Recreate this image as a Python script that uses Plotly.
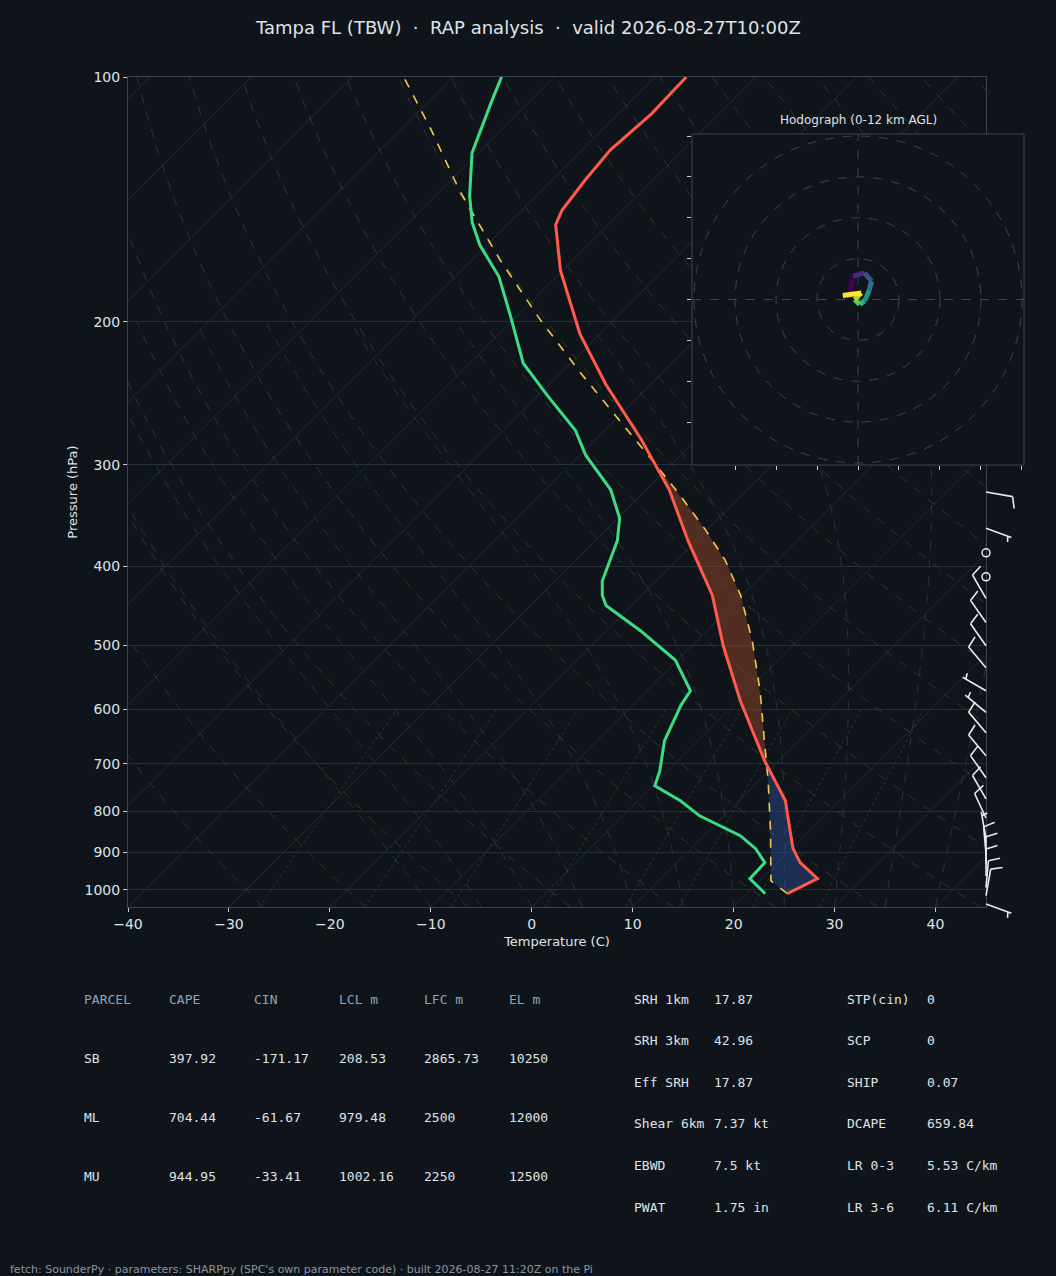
import numpy as np
import plotly.graph_objects as go
import plotly.colors as pc

# ---------------- data ----------------
T_P = [1011, 969, 926, 890, 841, 777, 694, 585, 501, 434, 372, 322, 279, 239, 207, 173, 152, 146, 134, 123, 111, 100]
T_C = [24.0, 25.5, 22.2, 20.1, 17.8, 14.6, 8.6, 0.2, -6.9, -13.0, -20.8, -27.7, -35.5, -44.4, -52.0, -60.2, -65.2, -66.0, -66.7, -67.2, -66.7, -66.9]
TD_P = [1011, 969, 926, 890, 858, 834, 811, 777, 745, 714, 656, 593, 569, 522, 480, 447, 434, 417, 372, 349, 322, 292, 272, 247, 225, 197, 176, 161, 151, 140, 124, 107, 100]
TD_C = [21.8, 18.8, 18.7, 16.4, 13.6, 10.6, 7.6, 4.2, 0.2, -0.8, -3.3, -5.2, -5.7, -10.2, -16.6, -22.5, -23.9, -25.3, -27.8, -29.8, -33.5, -39.4, -42.9, -49.0, -54.7, -60.6, -65.7, -70.7, -73.7, -76.6, -80.6, -83.8, -85.2]
PCL_P = [1011, 975, 846, 734, 656, 569, 493, 434, 393, 361, 327, 300, 265, 230, 199, 168, 138, 116, 100]
PCL_C = [24.0, 21.1, 16.1, 10.9, 6.6, 1.2, -4.6, -10.2, -15.2, -20.1, -26.1, -31.5, -39.4, -48.4, -57.3, -67.2, -78.1, -87.0, -94.9]

BARB_P = [324, 359, 385, 412, 438, 469, 501, 533, 569, 605, 641, 684, 728, 773, 816, 865, 903, 929, 962, 994, 1017, 1041]
BARB_DIR = [100, 110, 0, 0, 330, 325, 325, 320, 300, 310, 320, 320, 325, 330, 335, 350, 355, 0, 0, 5, 10, 110]
BARB_KT = [10, 5, 0, 0, 10, 10, 10, 10, 5, 5, 10, 10, 10, 10, 10, 5, 10, 10, 10, 10, 10, 5]

HODO_U = [-2.0, -1.2, 1.6, 3.3, 2.8, 1.6, 0.4, -0.8, 0.8, -3.7]
HODO_V = [1.6, 5.7, 6.5, 4.5, 2.4, -0.4, -1.2, 0.0, 1.6, 1.0]
HODO_RINGS = [10, 20, 30, 40]

P_TICKS = [100, 200, 300, 400, 500, 600, 700, 800, 900, 1000]
X_TICKS = [-40, -30, -20, -10, 0, 10, 20, 30, 40]

TABLE_HEAD = ["PARCEL", "CAPE", "CIN", "LCL m", "LFC m", "EL m"]
TABLE_ROWS = [["SB", "397.92", "-171.17", "208.53", "2865.73", "10250"],
              ["ML", "704.44", "-61.67", "979.48", "2500", "12000"],
              ["MU", "944.95", "-33.41", "1002.16", "2250", "12500"]]
KIN_L = ["SRH 1km", "SRH 3km", "Eff SRH", "Shear 6km", "EBWD", "PWAT"]
KIN_V = ["17.87", "42.96", "17.87", "7.37 kt", "7.5 kt", "1.75 in"]
IDX_L = ["STP(cin)", "SCP", "SHIP", "DCAPE", "LR 0-3", "LR 3-6"]
IDX_V = ["0", "0", "0.07", "659.84", "5.53 C/km", "6.11 C/km"]

# ---------------- geometry ----------------
W, H = 1056, 1276
BG = "#0f141a"
K = 80.5
PBOT, PTOP = 1050.0, 100.0
XL, XR = 128, 986
YT, YB = 77, 907
XMIN, XMAX = -40, 45

def skx(t, p):
    return np.asarray(t, float) + K * np.log10(PBOT / np.asarray(p, float))

def py(p):
    return YT + (YB - YT) * (np.log10(p) - np.log10(PTOP)) / (np.log10(PBOT) - np.log10(PTOP))

fig = go.Figure()
shapes = []
pg = np.logspace(np.log10(PBOT), np.log10(PTOP), 120)

def bg_line(x, p, color, dash, width=1):
    fig.add_trace(go.Scatter(x=x, y=p, mode="lines", line=dict(color=color, width=width, dash=dash),
                             hoverinfo="skip", showlegend=False))

for t0 in range(-120, 60, 10):
    bg_line(skx([t0, t0], [PBOT, PTOP]), [PBOT, PTOP], "#232c36", "solid")
for th in range(-30, 200, 10):
    t = (th + 273.15) * (pg / 1000.0) ** 0.2857 - 273.15
    bg_line(skx(t, pg), pg, "#353729", "dash")

def es(tc):
    return 6.112 * np.exp(17.67 * tc / (tc + 243.5))
def moist(t0):
    ps = np.logspace(np.log10(PBOT), np.log10(200), 200)
    ts = [t0]
    for i in range(1, len(ps)):
        tc = ts[-1]; tk = tc + 273.15; p = ps[i - 1]
        rs = 0.622 * es(tc) / (p - es(tc))
        g = (0.2857 * tk + 2.5e6 * rs / 1004.0) / (1 + 2.5e6 ** 2 * rs * 0.622 / (1004.0 * 287.0 * tk ** 2))
        ts.append(tc + g * np.log(ps[i] / p))
    return ps, np.array(ts)
for t0 in range(-10, 45, 5):
    ps, ts = moist(t0)
    bg_line(skx(ts, ps), ps, "#283538", "dash")
for w in [0.4, 1, 2, 4, 7, 10, 16, 24]:
    pm = np.logspace(np.log10(PBOT), np.log10(600), 30)
    e = w / 1000 * pm / (0.622 + w / 1000)
    lnr = np.log(e / 6.112)
    td = 243.5 * lnr / (17.67 - lnr)
    bg_line(skx(td, pm), pm, "#2a3832", "dot")

# CAPE / CIN fills
lp = np.linspace(np.log10(1011), np.log10(300), 200)
pp = 10 ** lp
tt = np.interp(lp, np.log10(T_P[::-1]), T_C[::-1])
tp = np.interp(lp, np.log10(PCL_P[::-1]), PCL_C[::-1])
for cond, col in [(tp > tt, "rgba(150,70,40,0.5)"), (tp < tt, "rgba(40,70,130,0.55)")]:
    idx = np.where(cond)[0]
    if len(idx) == 0:
        continue
    for g_ in np.split(idx, np.where(np.diff(idx) > 1)[0] + 1):
        xs = np.concatenate([skx(tt[g_], pp[g_]), skx(tp[g_], pp[g_])[::-1]])
        ys = np.concatenate([pp[g_], pp[g_][::-1]])
        fig.add_trace(go.Scatter(x=xs, y=ys, fill="toself", fillcolor=col, mode="lines",
                                 line=dict(width=0), hoverinfo="skip", showlegend=False))

fig.add_trace(go.Scatter(x=skx(PCL_C, PCL_P), y=PCL_P, mode="lines",
                         line=dict(color="#f2c94c", width=1.6, dash="dash"), showlegend=False))
fig.add_trace(go.Scatter(x=skx(TD_C, TD_P), y=TD_P, mode="lines",
                         line=dict(color="#3ddc84", width=3), showlegend=False))
fig.add_trace(go.Scatter(x=skx(T_C, T_P), y=T_P, mode="lines",
                         line=dict(color="#ff5a4a", width=3), showlegend=False))

# wind barbs as paper shapes
def P(x, y):
    return x / W, 1 - y / H
for p, d, s in zip(BARB_P, BARB_DIR, BARB_KT):
    x0, y0 = XR, py(p)
    if s == 0:
        shapes.append(dict(type="circle", xref="paper", yref="paper",
                           x0=(x0 - 4) / W, x1=(x0 + 4) / W, y0=1 - (y0 + 4) / H, y1=1 - (y0 - 4) / H,
                           line=dict(color="#e8ecf0", width=1.5)))
        continue
    a = np.deg2rad(d)
    dx, dy = np.sin(a), -np.cos(a)
    L = 27
    x1, y1 = x0 + dx * L, y0 + dy * L
    pos = 1.0 if s >= 10 else 0.86
    blen = 12 if s >= 10 else 6
    xs_, ys_ = x0 + dx * L * pos, y0 + dy * L * pos
    xb, yb = xs_ + (-dy * 0.95 + dx * 0.3) * blen, ys_ + (dx * 0.95 + dy * 0.3) * blen
    a0, a1 = P(x0, y0), P(x1, y1)
    bs, be = P(xs_, ys_), P(xb, yb)
    path = "M %f %f L %f %f M %f %f L %f %f" % (*a0, *a1, *bs, *be)
    shapes.append(dict(type="path", xref="paper", yref="paper", path=path,
                       line=dict(color="#e8ecf0", width=1.6)))

# hodograph
HX0, HX1, HY0, HY1 = 692, 1024, 134, 465
shapes.append(dict(type="rect", xref="paper", yref="paper", x0=HX0 / W, x1=HX1 / W, y0=1 - HY1 / H, y1=1 - HY0 / H,
                   fillcolor=BG, line=dict(color="#3a4450", width=1), layer="above"))
for r in HODO_RINGS:
    shapes.append(dict(type="circle", xref="x2", yref="y2", x0=-r, x1=r, y0=-r, y1=r,
                       line=dict(color="#3b4552", width=1, dash="dash"), layer="above"))
shapes.append(dict(type="line", xref="x2", yref="y2", x0=-40.5, x1=40.5, y0=0, y1=0,
                   line=dict(color="#3b4552", width=1, dash="dash"), layer="above"))
shapes.append(dict(type="line", xref="x2", yref="y2", x0=0, x1=0, y0=-40.5, y1=40.5,
                   line=dict(color="#3b4552", width=1, dash="dash"), layer="above"))
n = len(HODO_U)
cols = pc.sample_colorscale("Viridis", [i / (n - 2) for i in range(n - 1)])
for i in range(n - 1):
    shapes.append(dict(type="line", xref="x2", yref="y2", x0=HODO_U[i], x1=HODO_U[i + 1],
                       y0=HODO_V[i], y1=HODO_V[i + 1], line=dict(color=cols[i], width=5), layer="above"))
fig.add_trace(go.Scatter(x=[0], y=[0], xaxis="x2", yaxis="y2", mode="markers",
                         marker=dict(size=1, color="rgba(0,0,0,0)"), hoverinfo="skip", showlegend=False))

# annotations
ann = []
def txt(x, y, s, color="#dfe3e8", size=13, font="DejaVu Sans Mono", anchor="left"):
    ann.append(dict(x=x / W, y=1 - y / H, xref="paper", yref="paper", text=s, showarrow=False,
                    xanchor=anchor, yanchor="middle", font=dict(family=font, size=size, color=color)))
txt(528, 27, "Tampa FL (TBW)  ·  RAP analysis  ·  valid 2026-08-27T10:00Z", size=18,
    font="DejaVu Sans", anchor="center")
txt(858, 120, "Hodograph (0-12 km AGL)", size=12, font="DejaVu Sans", anchor="center")
cx = [82, 167, 252, 337, 422, 507]
for j, h in enumerate(TABLE_HEAD):
    txt(cx[j], 999, h, color="#8fa3ba")
for i, row in enumerate(TABLE_ROWS):
    for j, v in enumerate(row):
        txt(cx[j], 1058 + 59 * i, v)
for i in range(6):
    yy = 999 + 41.6 * i
    txt(632, yy, KIN_L[i]); txt(712, yy, KIN_V[i])
    txt(845, yy, IDX_L[i]); txt(925, yy, IDX_V[i])
txt(8, 1269, "fetch: SounderPy · parameters: SHARPpy (SPC's own parameter code) · built 2026-08-27 11:20Z on the Pi",
    color="#8a96a3", size=11, font="DejaVu Sans")

ax_col = "#3a4450"
tf = dict(family="DejaVu Sans", size=14, color="#dfe3e8")
fig.update_layout(
    width=W, height=H, paper_bgcolor=BG, plot_bgcolor=BG, margin=dict(l=0, r=0, t=0, b=0, autoexpand=False),
    annotations=ann, shapes=shapes, showlegend=False,
    xaxis=dict(domain=[XL / W, XR / W], range=[XMIN, XMAX], tickvals=X_TICKS, automargin=False,
               ticktext=[str(v).replace("-", "\u2212") for v in X_TICKS],
               showgrid=False, zeroline=False, showline=True, linecolor=ax_col, mirror=True,
               ticks="outside", tickcolor="#c8ccd0", ticklen=4, tickfont=tf,
               title=dict(text="Temperature (C)", font=dict(family="DejaVu Sans", size=13, color="#dfe3e8"), standoff=6)),
    yaxis=dict(domain=[1 - YB / H, 1 - YT / H], type="log", range=[np.log10(PBOT), np.log10(PTOP)], automargin=False,
               tickvals=P_TICKS, ticktext=[str(v) for v in P_TICKS], showgrid=True, gridcolor="#26303b",
               zeroline=False, showline=True, linecolor=ax_col, mirror=True, ticks="outside",
               tickcolor="#c8ccd0", ticklen=4, tickfont=tf,
               title=dict(text="Pressure (hPa)", font=dict(family="DejaVu Sans", size=13, color="#dfe3e8"), standoff=4)),
    xaxis2=dict(domain=[HX0 / W, HX1 / W], range=[-40.5, 40.5], anchor="y2", showgrid=False, zeroline=False, automargin=False,
                showticklabels=False, ticks="outside", tickcolor="#c8ccd0", ticklen=4,
                tickvals=[-30, -20, -10, 0, 10, 20, 30, 40], showline=False),
    yaxis2=dict(domain=[1 - HY1 / H, 1 - HY0 / H], range=[-40.5, 40.5], anchor="x2", showgrid=False, automargin=False,
                zeroline=False, showticklabels=False, ticks="outside", tickcolor="#c8ccd0", ticklen=4,
                tickvals=[-30, -20, -10, 0, 10, 20, 30, 40], showline=False),
)
fig.write_html("out.html", config={"displayModeBar": False})
with open("out.html", encoding="utf-8") as f:
    html = f.read()
html = html.replace("<body>", '<body style="margin:0;background:%s">' % BG, 1)
with open("out.html", "w", encoding="utf-8") as f:
    f.write(html)
